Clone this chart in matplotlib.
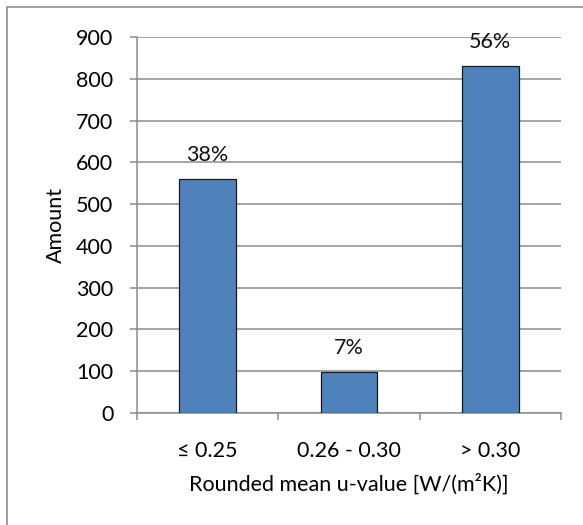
import matplotlib
matplotlib.use('Agg')
import matplotlib.pyplot as plt
from matplotlib.patches import Rectangle

categories = ['≤ 0.25', '0.26 - 0.30', '> 0.30']
amounts = [560, 99, 831]
shares = ['38%', '7%', '56%']
yticks = [0, 100, 200, 300, 400, 500, 600, 700, 800, 900]

plt.rcParams['font.family'] = ['Lato', 'DejaVu Sans']
FS = 15.5

W, H = 583, 525
fig = plt.figure(figsize=(W / 100, H / 100), dpi=100)
fig.patch.set_facecolor('white')

# outer chart frame
fig.patches.append(Rectangle((7 / W, -0.1), 1.2, (H - 7) / H + 0.1,
                             transform=fig.transFigure, fill=False,
                             edgecolor='#8c8c8c', linewidth=1.2))

ax = fig.add_axes([137 / W, (H - 413) / H, 424 / W, (413 - 37) / H])
x = list(range(len(categories)))
bars = ax.bar(x, amounts, width=0.4, color='#4f81bd', edgecolor='#1a1a1a',
              linewidth=0.9, zorder=3)

for b, s in zip(bars, shares):
    ax.annotate(s, (b.get_x() + b.get_width() / 2, b.get_height()),
                xytext=(0, 24), textcoords='offset pixels',
                ha='center', va='center', fontsize=FS, color='#111111')

ax.set_xlim(-0.5, 2.5)
ax.set_ylim(0, 900)
ax.set_yticks(yticks)
ax.yaxis.grid(True, color='#8c8c8c', linewidth=1.1, zorder=0)
ax.set_axisbelow(True)

ax.set_xticks([-0.5, 0.5, 1.5, 2.5])
ax.set_xticklabels([])
ax.set_xticks(x, minor=True)
ax.set_xticklabels(categories, minor=True)
ax.tick_params(axis='x', which='major', length=5, width=1.1, color='#8c8c8c')
ax.tick_params(axis='x', which='minor', length=0, pad=20, labelsize=FS)
ax.tick_params(axis='y', length=5, width=1.1, color='#8c8c8c', labelsize=FS, pad=12)

for side in ['top', 'right']:
    ax.spines[side].set_visible(False)
for side in ['left', 'bottom']:
    ax.spines[side].set_color('#8c8c8c')
    ax.spines[side].set_linewidth(1.1)

ax.set_ylabel('Amount', fontsize=FS, labelpad=7)
ax.set_xlabel('Rounded mean u-value [W/(m²K)]', fontsize=FS, labelpad=9)

fig.savefig('out.png', dpi=100)
